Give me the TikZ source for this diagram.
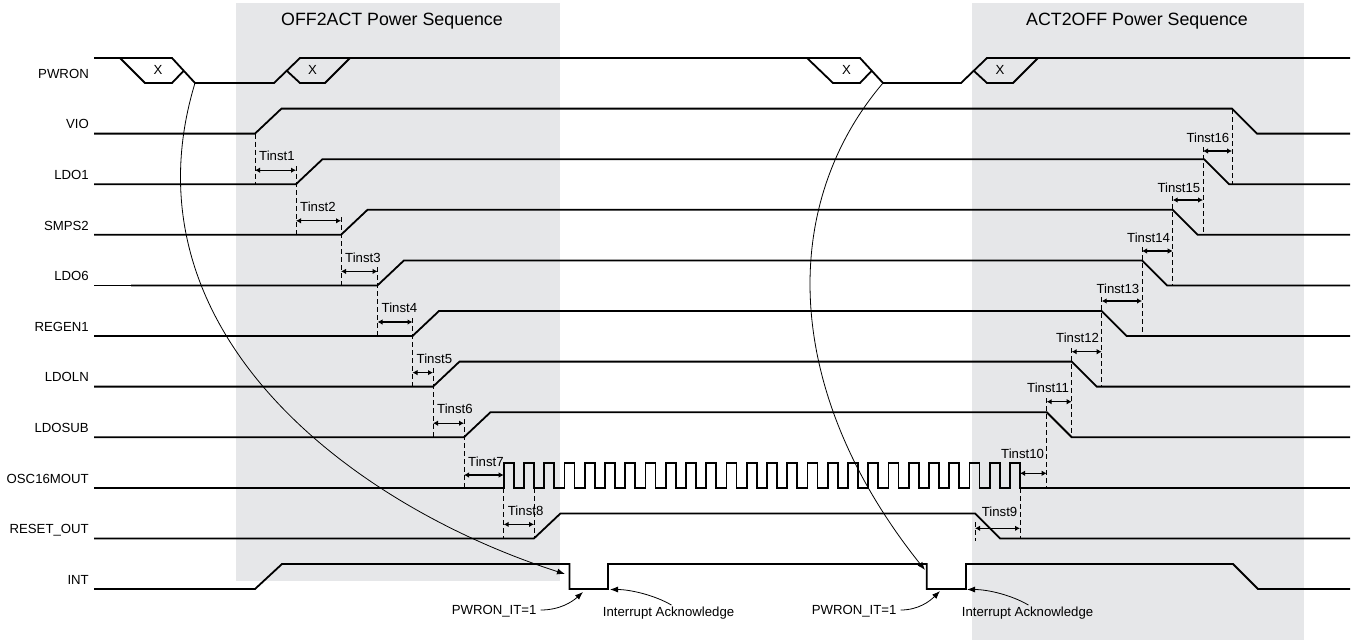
\documentclass[tikz,border=0pt]{standalone}
\usepackage{fontspec}
\setmainfont{Liberation Sans}
\usetikzlibrary{arrows.meta}
\definecolor{seqgray}{RGB}{230,231,233}
\tikzset{
  sig/.style={line width=1.8pt},
  guide/.style={line width=0.9pt,dash pattern=on 5pt off 3pt},
  tinst/.style={line width=1.2pt,{Latex[length=5pt,width=5.5pt]}-{Latex[length=5pt,width=5.5pt]}},
  lab/.style={font=\fontsize{13.2}{15}\selectfont,inner sep=0pt,text height=9.5pt,text depth=0pt},
  seqtitle/.style={font=\fontsize{17.8}{20}\selectfont,inner sep=0pt},
  hint/.style={line width=0.8pt,-{Latex[length=8pt,width=6pt]}}
}
\begin{document}
\begin{tikzpicture}[x=1pt,y=-1pt]
 \useasboundingbox (0,0) rectangle (1352,640);
 % sequence windows
 \fill[seqgray] (236,3) rectangle (560,581);
 \fill[seqgray] (972,3) rectangle (1304,640);
 \node[seqtitle] (offact) at (392,21) {OFF2ACT Power Sequence};
 \node[seqtitle] (actoff) at (1137,21) {ACT2OFF Power Sequence};
 % signal names
 \foreach \name [count=\i from 0] in {PWRON,VIO,LDO1,SMPS2,LDO6,REGEN1,LDOLN,LDOSUB,OSC16MOUT,RESET\_OUT,INT}
   \node[lab,anchor=east] (sig\i) at (89,{83+50.6*\i-9.5}) {\name};
 % PWRON with its bus crossings
 \draw[sig] (94,58) -- (172,58) -- (195,83) -- (274,83) -- (300,58) -- (860,58) -- (883,83)
   -- (961,83) -- (987,58) -- (1350,58);
 \draw[sig] (120,58) -- (145,83) -- (172,83) -- (183.5,71);
 \draw[sig] (287,71) -- (300,83) -- (325,83) -- (350,58);
 \draw[sig] (807,58) -- (833,83) -- (860,83) -- (871.5,71);
 \draw[sig] (974,71) -- (987,83) -- (1013,83) -- (1038,58);
 \foreach \x [count=\n] in {158,312.5,846.5,1000}
   \node[lab] (cross\n) at (\x,70) {X};
 % supplies: ramp up, ramp down
 \foreach \i/\s/\r/\f in {1/94/255/1232, 2/94/296/1204, 3/94/341/1172.7, 4/131/377.5/1142,
                          5/167/412.5/1101.7, 6/94/433/1071.7, 7/94/464/1046.7} {
   \pgfmathsetmacro\lo{83+50.6*\i}
   \draw[line width=1.2pt] (94,\lo) -- (\s,\lo);
   \draw[sig] (\s,\lo) -- (\r,\lo) -- ({\r+26.5},{\lo-25}) -- (\f,{\lo-25}) -- ({\f+25},\lo) -- (1350,\lo);
 }
 % 16 MHz clock
 \draw[sig] (94,487.8) -- (503.7,487.8)
   \foreach \k in {1,...,26} { -- ++(0,-25) -- ++(10.1,0) -- ++(0,25) -- ++(10.15,0) } -- (1350,487.8);
 \draw[sig] (94,538.4) -- (534,538.4) -- (560.5,513.4) -- (975,513.4) -- (1000,538.4) -- (1350,538.4);
 \draw[sig] (94,589) -- (255,589) -- (282,564) -- (569.5,564) -- (569.5,589) -- (608,589) -- (608,564)
   -- (926.7,564) -- (926.7,589) -- (966,589) -- (966,564) -- (1233,564) -- (1258,589) -- (1350,589);
 % delay guides
 \foreach \x/\ya/\yb in {255/133.6/184.2, 296/166/234.8, 341/217/285.4, 377.5/267/336, 412.5/318/386.6,
     433/368/437.2, 464/419/487.8, 503.7/472/538.4, 534/487.8/538.4, 975/522/541, 1020/487.8/538.4,
     1046.7/398/487.8, 1071.7/348/437.2, 1101.7/297/386.6, 1142/247/336, 1172.7/196/285.4,
     1203/147/234.8, 1232/109/184.2}
   \draw[guide] (\x,\ya) -- (\x,\yb);
 \foreach \k/\xa/\xb/\ya/\yl in {1/255/296/170.2/156.2, 2/296/341/220.8/206.8, 3/341/377.5/271.4/257.4,
     4/377.5/412.5/322/308, 5/412.5/433/372.6/358.6, 6/433/464/423.2/409.2, 7/464/503.7/475/461.5,
     8/503.7/534/524.4/510.4} {
   \draw[tinst] (\xa,\ya) -- (\xb,\ya);
   \node[lab,anchor=west] (tinst\k) at ({\xa+4},\yl) {Tinst\k};
 }
 \foreach \k/\xa/\xb/\ya/\yl in {9/975/1020/528.3/511.7, 10/1020/1046.7/473.3/453.3,
     11/1046.7/1071.7/401.7/387.3, 12/1071.7/1101.7/351.7/337.7, 13/1101.7/1142/301/288.3,
     14/1142/1172.7/251/237.3, 15/1172.7/1203/200/187.3, 16/1203/1232/151/137.3} {
   \draw[tinst] (\xa,\ya) -- (\xb,\ya);
   \node[lab,anchor=east] (tinst\k) at ({\xb-2.5},\yl) {Tinst\k};
 }
 % PWRON press -> interrupt
 \coordinate (press1) at (195,83);
 \coordinate (press2) at (883,83);
 \coordinate (intlow1) at (565,574);
 \coordinate (intlow2) at (925,570);
 \draw[hint] (press1) .. controls (120,330) and (350,505) .. (intlow1);
 \draw[hint] (press2) .. controls (779.5,204.5) and (781,390) .. (intlow2);
 \node[lab,anchor=east] (pwit1) at (536.7,610) {PWRON\_IT=1};
 \node[lab,anchor=east] (pwit2) at (896.7,610) {PWRON\_IT=1};
 \node[lab,anchor=west] (ack1) at (602.7,612) {Interrupt Acknowledge};
 \node[lab,anchor=west] (ack2) at (961.7,612) {Interrupt Acknowledge};
 \coordinate (itset1) at (583,592);
 \coordinate (itset2) at (940,591);
 \coordinate (itclr1) at (610,589.5);
 \coordinate (itclr2) at (967,589.5);
 \draw[hint] ([xshift=4pt]pwit1.east) .. controls +(19,0) and +(-11,10) .. (itset1);
 \draw[hint] ([xshift=4pt]pwit2.east) .. controls +(18,0) and +(-10,10) .. (itset2);
 \draw[hint] (ack1.north east) ++(-63,-2) coordinate (ackfoot1) (ackfoot1) .. controls +(-17,-10) and +(20,0) .. (itclr1);
 \draw[hint] (ack2.north east) ++(-65,-2) coordinate (ackfoot2) (ackfoot2) .. controls +(-17,-10) and +(21,0) .. (itclr2);
\end{tikzpicture}
\end{document}
